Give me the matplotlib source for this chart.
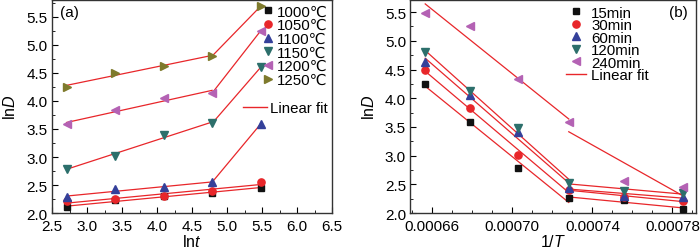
import numpy as np
import matplotlib
matplotlib.use("Agg")
import matplotlib.pyplot as plt
from matplotlib.ticker import MultipleLocator, FixedLocator, FormatStrFormatter
from matplotlib.lines import Line2D

plt.rcParams['font.family'] = ['Liberation Sans', 'DejaVu Sans']
plt.rcParams['mathtext.fontset'] = 'custom'
plt.rcParams['mathtext.rm'] = 'Liberation Sans'
plt.rcParams['mathtext.it'] = 'Liberation Sans:italic'

# ---------------- data ----------------
# (a) lnD vs ln t, one series per temperature
ln_t = [2.708, 3.401, 4.094, 4.787, 5.481]
temps = ['1000℃', '1050℃', '1100℃', '1150℃', '1200℃', '1250℃']
d1000 = [2.10, 2.23, 2.31, 2.36, 2.45]
d1050 = [2.21, 2.26, 2.30, 2.39, 2.56]
d1100 = [2.28, 2.43, 2.46, 2.55, 3.59]
d1150 = [2.79, 3.02, 3.40, 3.60, 4.60]
d1200 = [3.58, 3.83, 4.06, 4.14, 5.25]
d1250 = [4.25, 4.50, 4.63, 4.80, 5.69]

# (b) lnD vs 1/T, one series per holding time (1250 -> 1000 C)
inv_T = [0.0006565, 0.0006788, 0.0007027, 0.0007282, 0.0007558, 0.0007854]
inv_T_ticks = [0.00066, 0.00070, 0.00074, 0.00078]
times = ['15min', '30min', '60min', '120min', '240min']
m15 = [4.25, 3.58, 2.79, 2.26, 2.23, 2.07]
m30 = [4.49, 3.83, 3.02, 2.41, 2.28, 2.21]
m60 = [4.63, 4.06, 3.41, 2.44, 2.30, 2.28]
m120 = [4.80, 4.13, 3.48, 2.53, 2.38, 2.35]
m240 = [5.49, 5.25, 4.33, 3.58, 2.56, 2.45]

colors = ['#111111', '#e8262a', '#34409a', '#2c6f6b', '#b462b4', '#7e7a2c']
markers = ['s', 'o', '^', 'v', '<', '>']
sizes = [4.5, 5.2, 5.5, 5.5, 5.5, 5.5]
fit_c = '#e8262a'

fig = plt.figure(figsize=(7, 2.51), dpi=100)
ax1 = fig.add_axes([0.0743, 0.147, 0.40, 0.849])
ax2 = fig.add_axes([0.586, 0.147, 0.409, 0.849])


def fit_line(ax, x, y):
    k, b = np.polyfit(x, y, 1)
    xs = np.array([x[0], x[-1]])
    ax.plot(xs, k * xs + b, color=fit_c, lw=0.9, zorder=2)


# ---------- (a) ----------
series_a = [d1000, d1050, d1100, d1150, d1200, d1250]
for i, ys in enumerate(series_a):
    if i < 2:
        fit_line(ax1, ln_t, ys)
    else:
        fit_line(ax1, ln_t[:4], ys[:4])
        fit_line(ax1, ln_t[3:], ys[3:])
for i, ys in enumerate(series_a):
    ax1.plot(ln_t, ys, ls='none', marker=markers[i], ms=sizes[i],
             color=colors[i], mec=colors[i], zorder=3, label=temps[i])

ax1.set_xlim(2.5, 6.5)
ax1.set_ylim(2.0, 5.8)
ax1.xaxis.set_major_locator(MultipleLocator(0.5))
ax1.xaxis.set_minor_locator(MultipleLocator(0.25))
ax1.yaxis.set_major_locator(MultipleLocator(0.5))
ax1.yaxis.set_minor_locator(MultipleLocator(0.25))
ax1.xaxis.set_major_formatter(FormatStrFormatter('%.1f'))
ax1.yaxis.set_major_formatter(FormatStrFormatter('%.1f'))
ax1.set_xlabel(r'ln$\it{t}$', fontsize=11.5, labelpad=0)
ax1.set_ylabel(r'ln$\it{D}$', fontsize=11.5, labelpad=6)
ax1.text(0.03, 0.975, '(a)', transform=ax1.transAxes, fontsize=11, va='top')

leg1 = ax1.legend(loc='upper right', bbox_to_anchor=(1.0, 1.0), frameon=False,
                  fontsize=10.8, handlelength=0.6, handletextpad=0.3,
                  labelspacing=-0.02, borderaxespad=0.2, borderpad=0.1)
ax1.add_artist(leg1)
ax1.legend(handles=[Line2D([], [], color=fit_c, lw=1.0)], labels=['Linear fit'],
           loc='upper right', bbox_to_anchor=(1.0, 0.545), frameon=False,
           fontsize=10.8, handlelength=1.6, handletextpad=0.2,
           borderaxespad=0.2, borderpad=0.1)

# ---------- (b) ----------
series_b = [m15, m30, m60, m120, m240]
for i, ys in enumerate(series_b):
    fit_line(ax2, inv_T[:4], ys[:4])
    fit_line(ax2, inv_T[3:], ys[3:])
for i, ys in enumerate(series_b):
    ax2.plot(inv_T, ys, ls='none', marker=markers[i], ms=sizes[i],
             color=colors[i], mec=colors[i], zorder=3, label=times[i])

ax2.set_xlim(0.000649, 0.000792)
ax2.set_ylim(2.0, 5.71)
ax2.xaxis.set_major_locator(FixedLocator(inv_T_ticks))
ax2.xaxis.set_minor_locator(MultipleLocator(0.00001))
ax2.yaxis.set_major_locator(MultipleLocator(0.5))
ax2.yaxis.set_minor_locator(MultipleLocator(0.25))
ax2.xaxis.set_major_formatter(FormatStrFormatter('%.5f'))
ax2.yaxis.set_major_formatter(FormatStrFormatter('%.1f'))
ax2.set_xlabel(r'1/$\it{T}$', fontsize=11.5, labelpad=0)
ax2.set_ylabel(r'ln$\it{D}$', fontsize=11.5, labelpad=6)
ax2.text(0.97, 0.975, '(b)', transform=ax2.transAxes, fontsize=11,
         va='top', ha='right')

handles, labels = ax2.get_legend_handles_labels()
handles.append(Line2D([], [], color=fit_c, lw=1.0))
labels.append('Linear fit')
ax2.legend(handles, labels, loc='upper left', bbox_to_anchor=(0.53, 0.995),
           frameon=False, fontsize=10.8, handlelength=1.3, handletextpad=0.35,
           labelspacing=-0.1, borderaxespad=0.2, borderpad=0.1)

for ax in (ax1, ax2):
    ax.tick_params(which='both', direction='in', labelsize=11, top=False,
                   right=False)
    ax.tick_params(axis='x', which='major', pad=4.5)
    ax.tick_params(axis='y', which='major', pad=3)
    ax.tick_params(which='major', length=4)
    ax.tick_params(which='minor', length=2)
    for s in ax.spines.values():
        s.set_linewidth(1.0)
        s.set_color('#333333')

fig.savefig('out.png', dpi=100)
